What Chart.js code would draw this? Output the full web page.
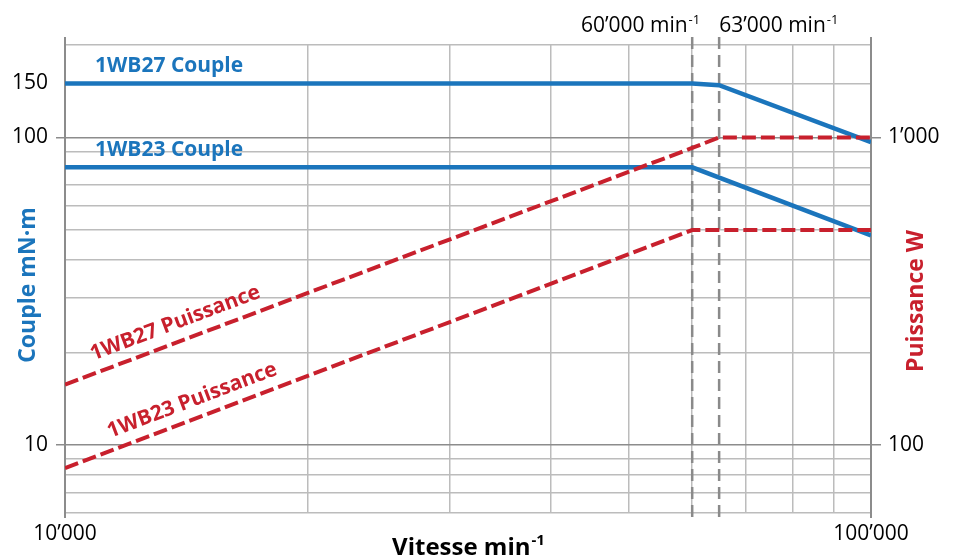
<!DOCTYPE html>
<html>
<head>
<meta charset="utf-8">
<script src="https://cdn.jsdelivr.net/npm/chart.js@4"></script>
<style>
  html, body { margin: 0; padding: 0; background: #fff; }
  #wrap { width: 956px; height: 556px; }
</style>
</head>
<body>
<div id="wrap"><canvas id="chart"></canvas></div>
<script>
// speeds in min-1, torque in mN·m, power in W
const speeds27 = [10000, 60000, 64800, 100000];
const couple27 = [150, 150, 148, 96.5];
const puissance27 = [157, 925, 1000, 1000];

const speeds23 = [10000, 60000, 100000];
const couple23 = [80, 80, 48];
const puissance23 = [84, 500, 500];

const speedMarks = [60000, 64800];
const speedMarkLabels = ['60’000', '63’000'];

const xTicks = [10000, 20000, 30000, 40000, 50000, 60000, 70000, 80000, 90000, 100000];
const xLabels = { 10000: '10’000', 100000: '100’000' };
const coupleTicks = [6, 7, 8, 9, 10, 20, 30, 40, 50, 60, 70, 80, 90, 100, 150, 200];
const coupleLabels = { 10: '10', 100: '100', 150: '150' };
const powerTicks = [100, 1000];
const powerLabels = { 100: '100', 1000: '1’000' };

const BLUE = '#1b75bc';
const RED = '#c8202d';
const GRID = '#bcbcbc';
const AXIS = '#8c8c8c';
const FONT = "'Open Sans', sans-serif";

Chart.defaults.font.family = FONT;
Chart.defaults.color = '#000';

const pts = (xs, ys) => xs.map((x, i) => ({ x, y: ys[i] }));

// text with a "-1" exponent, drawn by hand
function withSup(ctx, text, x, y, size, bold, align) {
  const w = bold ? 'bold ' : '';
  ctx.font = `${w}${size}px ${FONT}`;
  const w1 = ctx.measureText(text).width;
  ctx.font = `${w}${Math.round(size * 0.62)}px ${FONT}`;
  const w2 = ctx.measureText('-1').width;
  let x0 = x;
  if (align === 'right') x0 = x - w1 - w2;
  if (align === 'center') x0 = x - (w1 + w2) / 2;
  ctx.textAlign = 'left';
  ctx.textBaseline = 'alphabetic';
  ctx.font = `${w}${size}px ${FONT}`;
  ctx.fillText(text, x0, y);
  ctx.font = `${w}${Math.round(size * 0.62)}px ${FONT}`;
  ctx.fillText('-1', x0 + w1 + 1, y - size * 0.4);
}

function alongLine(ctx, chart, idx, text, s, d) {
  const p = chart.getDatasetMeta(idx).data;
  const ang = Math.atan2(p[1].y - p[0].y, p[1].x - p[0].x);
  ctx.save();
  ctx.translate(p[0].x, p[0].y);
  ctx.rotate(ang);
  ctx.textAlign = 'left';
  ctx.textBaseline = 'alphabetic';
  ctx.fillText(text, s, -d);
  ctx.restore();
}

const overlay = {
  id: 'overlay',
  beforeDatasetsDraw(chart) {
    const { ctx, chartArea: a, scales } = chart;
    ctx.save();
    ctx.strokeStyle = AXIS;
    ctx.lineWidth = 2;
    [a.left, a.right].forEach(x => {
      ctx.beginPath();
      ctx.moveTo(x, a.top - 8);
      ctx.lineTo(x, a.bottom + 5);
      ctx.stroke();
    });
    ctx.setLineDash([12, 6]);
    ctx.lineWidth = 2.5;
    ctx.strokeStyle = '#8a8a8a';
    speedMarks.forEach(v => {
      const x = scales.x.getPixelForValue(v);
      ctx.beginPath();
      ctx.moveTo(x, a.top - 8);
      ctx.lineTo(x, a.bottom + 7);
      ctx.stroke();
    });
    ctx.restore();
  },
  afterDatasetsDraw(chart) {
    const { ctx, chartArea: a, scales } = chart;
    ctx.save();

    // speed limit labels
    ctx.fillStyle = '#000';
    const x60 = scales.x.getPixelForValue(speedMarks[0]);
    const x63 = scales.x.getPixelForValue(speedMarks[1]);
    withSup(ctx, speedMarkLabels[0] + ' min', x60 + 7, a.top - 13, 21, false, 'right');
    withSup(ctx, speedMarkLabels[1] + ' min', x63, a.top - 13, 21, false, 'left');

    // series labels
    ctx.font = `bold 21px ${FONT}`;
    ctx.fillStyle = BLUE;
    ctx.textAlign = 'left';
    ctx.textBaseline = 'alphabetic';
    [[2, '1WB27 Couple'], [3, '1WB23 Couple']].forEach(([i, t]) => {
      const p = chart.getDatasetMeta(i).data[0];
      ctx.fillText(t, p.x + 30, p.y - 11);
    });
    ctx.fillStyle = RED;
    alongLine(ctx, chart, 0, '1WB27 Puissance', 35, 12.5);
    alongLine(ctx, chart, 1, '1WB23 Puissance', 53, 12);

    // axis titles
    ctx.font = `bold 23px ${FONT}`;
    ctx.textAlign = 'center';
    ctx.save();
    ctx.translate(35, (a.top + a.bottom) / 2 + 6);
    ctx.rotate(-Math.PI / 2);
    ctx.fillStyle = BLUE;
    ctx.fillText('Couple mN·m', 0, 0);
    ctx.restore();
    ctx.save();
    ctx.translate(923, (a.top + a.bottom) / 2 + 22);
    ctx.rotate(-Math.PI / 2);
    ctx.fillStyle = RED;
    ctx.fillText('Puissance W', 0, 0);
    ctx.restore();
    ctx.fillStyle = '#000';
    withSup(ctx, 'Vitesse min', (a.left + a.right) / 2, 555, 24, true, 'center');

    ctx.restore();
  }
};

new Chart(document.getElementById('chart'), {
  type: 'line',
  data: {
    datasets: [
      {
        label: '1WB27 Puissance',
        data: pts(speeds27, puissance27),
        yAxisID: 'y2',
        borderColor: RED,
        borderWidth: 4,
        borderDash: [14, 5],
        order: 1
      },
      {
        label: '1WB23 Puissance',
        data: pts(speeds23, puissance23),
        yAxisID: 'y2',
        borderColor: RED,
        borderWidth: 4,
        borderDash: [14, 5],
        order: 1
      },
      {
        label: '1WB27 Couple',
        data: pts(speeds27, couple27),
        yAxisID: 'y',
        borderColor: BLUE,
        borderWidth: 4.5,
        order: 2
      },
      {
        label: '1WB23 Couple',
        data: pts(speeds23, couple23),
        yAxisID: 'y',
        borderColor: BLUE,
        borderWidth: 4.5,
        order: 2
      }
    ]
  },
  options: {
    responsive: true,
    maintainAspectRatio: false,
    animation: false,
    events: [],
    elements: {
      point: { radius: 0 },
      line: { tension: 0, fill: false, borderCapStyle: 'butt' }
    },
    layout: { padding: { top: 45, left: 0, right: 0, bottom: 0 } },
    plugins: {
      legend: { display: false },
      tooltip: { enabled: false }
    },
    scales: {
      x: {
        type: 'logarithmic',
        min: 10000,
        max: 100000,
        afterBuildTicks: s => { s.ticks = xTicks.map(v => ({ value: v })); },
        afterFit: s => { s.height = 43; },
        grid: { color: GRID, lineWidth: 1.5, drawTicks: false },
        border: { display: false },
        ticks: {
          autoSkip: false,
          maxRotation: 0,
          padding: 8,
          font: { size: 21 },
          color: '#000',
          callback: v => xLabels[v] || ''
        }
      },
      y: {
        type: 'logarithmic',
        position: 'left',
        min: 6,
        max: 200,
        afterBuildTicks: s => { s.ticks = coupleTicks.map(v => ({ value: v })); },
        afterFit: s => { s.width = 65; },
        grid: {
          color: c => (c.tick && (c.tick.value === 10 || c.tick.value === 100)) ? AXIS : GRID,
          lineWidth: 1.5,
          tickLength: 9,
          tickColor: c => (c.tick && coupleLabels[c.tick.value] && c.tick.value !== 150) ? AXIS : 'rgba(0,0,0,0)'
        },
        border: { color: AXIS, width: 2 },
        ticks: {
          autoSkip: false,
          padding: 8,
          font: { size: 21 },
          color: '#000',
          callback: v => coupleLabels[v] || ''
        }
      },
      y2: {
        type: 'logarithmic',
        position: 'right',
        min: 60,
        max: 2000,
        afterBuildTicks: s => { s.ticks = powerTicks.map(v => ({ value: v })); },
        afterFit: s => { s.width = 85; },
        grid: { drawOnChartArea: false, tickLength: 10, tickColor: AXIS, lineWidth: 1.5 },
        border: { color: AXIS, width: 2 },
        ticks: {
          autoSkip: false,
          padding: 7,
          font: { size: 21 },
          color: '#000',
          callback: v => powerLabels[v] || ''
        }
      }
    }
  },
  plugins: [overlay]
});
</script>
</body>
</html>
